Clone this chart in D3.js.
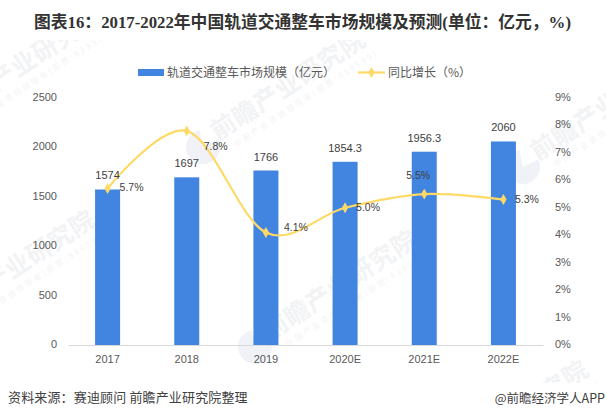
<!DOCTYPE html>
<html lang="zh">
<head>
<meta charset="UTF-8">
<title>图表16</title>
<script src="https://d3js.org/d3.v7.min.js"></script>
<style>
    html, body { margin: 0; padding: 0; background: #fff; }
    svg { display: block; }
    text { font-family: "Noto Sans CJK SC", "Noto Sans", sans-serif; }
</style>
</head>
<body>
<div id="chart"></div>
<script>
// data
var years = ["2017", "2018", "2019", "2020E", "2021E", "2022E"];
var marketSize = [1574, 1697, 1766, 1854.3, 1956.3, 2060];
var marketLabels = ["1574", "1697", "1766", "1854.3", "1956.3", "2060"];
var growth = [5.7, 7.8, 4.1, 5.0, 5.5, 5.3];
var leftTicks = [0, 500, 1000, 1500, 2000, 2500];
var rightTicks = [0, 1, 2, 3, 4, 5, 6, 7, 8, 9];
// label offset for each growth point, the labels do not all sit on the same side
var growthLabelDx = [12, 17, 18, 11, -18, 11.5];
var growthLabelDy = [-1, 15, -5, 0, -19, 0];

var width = 606, height = 420;
var plotLeft = 68, plotRight = 543, plotTop = 98, plotBottom = 345;
var barColor = "#4285e0", lineColor = "#ffd966", textColor = "#595959", labelColor = "#404040";
var numFont = '"Liberation Sans", "Noto Sans", sans-serif';

var svg = d3.select("#chart").append("svg")
    .attr("width", width)
    .attr("height", height);

// faint watermark behind the chart, only inside the band between title and footer
svg.append("clipPath").attr("id", "wm-clip")
    .append("rect").attr("x", 0).attr("y", 40).attr("width", width).attr("height", 343);
var marks = [[-41, 105], [223, 127], [543, 147], [-47, 307], [275, 327], [446, 457]];
var wm = svg.append("g").attr("clip-path", "url(#wm-clip)");
var logoArc = d3.arc().innerRadius(0).outerRadius(17).startAngle(1.1).endAngle(2 * Math.PI - 0.2);
marks.forEach(function(m) {
    wm.append("path")
        .attr("d", logoArc)
        .attr("transform", "translate(" + (m[0] - 20) + "," + (m[1] + 20) + ")")
        .attr("fill", "#f0f2f7");
    var g = wm.append("g")
        .attr("transform", "translate(" + m[0] + "," + m[1] + ") rotate(-33)");
    g.append("text")
        .attr("x", -12).attr("y", 9)
        .attr("textLength", 178)
        .attr("fill", "#f2f3f5")
        .style("font-size", "25px")
        .style("font-weight", "700")
        .text("前瞻产业研究院");
    g.append("text")
        .attr("x", 0).attr("y", 24)
        .attr("textLength", 168)
        .attr("fill", "#f3f4f6")
        .style("font-size", "8px")
        .text("中国产业咨询领导者(股票:839599)");
});

var x = d3.scaleBand().domain(years).range([plotLeft, plotRight]).paddingInner(0.684).paddingOuter(0.342);
var yLeft = d3.scaleLinear().domain([0, 2500]).range([plotBottom, plotTop]);
var yRight = d3.scaleLinear().domain([0, 9]).range([plotBottom, plotTop]);

function cx(d) { return x(d) + x.bandwidth() / 2; }

// bars
svg.selectAll("rect.bar")
    .data(years)
    .enter()
    .append("rect")
    .attr("class", "bar")
    .attr("x", function(d) { return x(d); })
    .attr("y", function(d, i) { return yLeft(marketSize[i]); })
    .attr("width", x.bandwidth())
    .attr("height", function(d, i) { return plotBottom - yLeft(marketSize[i]); })
    .attr("fill", barColor);

// axes
var axisB = svg.append("g")
    .attr("transform", "translate(0," + plotBottom + ")")
    .call(d3.axisBottom(x).tickSize(0).tickPadding(10));
axisB.select(".domain").attr("stroke", "#d9d9d9").attr("stroke-width", 1);

var axisL = svg.append("g")
    .attr("transform", "translate(" + (plotLeft - 11) + ",-1)")
    .call(d3.axisLeft(yLeft).tickValues(leftTicks).tickSize(0).tickPadding(0)
        .tickFormat(d3.format("d")));
axisL.select(".domain").remove();

var axisR = svg.append("g")
    .attr("transform", "translate(" + (plotRight + 12) + ",-1)")
    .call(d3.axisRight(yRight).tickValues(rightTicks).tickSize(0).tickPadding(0)
        .tickFormat(function(d) { return d + "%"; }));
axisR.select(".domain").remove();

svg.selectAll(".tick text")
    .style("font-family", numFont)
    .style("font-size", "11px")
    .attr("fill", textColor);

// growth line
var line = d3.line()
    .x(function(d, i) { return cx(years[i]); })
    .y(function(d) { return yRight(d); })
    .curve(d3.curveCatmullRom.alpha(0));

svg.append("path")
    .datum(growth)
    .attr("d", line)
    .attr("fill", "none")
    .attr("stroke", lineColor)
    .attr("stroke-width", 2.2);

var diamond = d3.symbol().type(d3.symbolDiamond).size(34);
svg.selectAll("path.pt")
    .data(growth)
    .enter()
    .append("path")
    .attr("class", "pt")
    .attr("d", diamond)
    .attr("transform", function(d, i) { return "translate(" + cx(years[i]) + "," + yRight(d) + ")"; })
    .attr("fill", lineColor);

// value labels
svg.selectAll("text.val")
    .data(marketLabels)
    .enter()
    .append("text")
    .attr("class", "val")
    .attr("x", function(d, i) { return cx(years[i]); })
    .attr("y", function(d, i) { return yLeft(marketSize[i]) - 10; })
    .attr("text-anchor", "middle")
    .style("font-family", numFont)
    .style("font-size", "11px")
    .attr("fill", labelColor)
    .text(function(d) { return d; });

svg.selectAll("text.pct")
    .data(growth)
    .enter()
    .append("text")
    .attr("class", "pct")
    .attr("x", function(d, i) { return cx(years[i]) + growthLabelDx[i]; })
    .attr("y", function(d, i) { return yRight(d) + growthLabelDy[i]; })
    .attr("dy", "0.35em")
    .style("font-family", numFont)
    .style("font-size", "10.5px")
    .attr("fill", labelColor)
    .text(function(d) { return d.toFixed(1) + "%"; });

// title
svg.append("text")
    .attr("x", 302.5)
    .attr("y", 28)
    .attr("text-anchor", "middle")
    .style("font-family", '"Liberation Serif", "Noto Sans CJK SC", serif')
    .style("font-size", "16.8px")
    .style("font-weight", "700")
    .attr("fill", "#333333")
    .text("图表16：2017-2022年中国轨道交通整车市场规模及预测(单位：亿元，%)");

// legend
svg.append("rect")
    .attr("x", 138).attr("y", 69).attr("width", 26).attr("height", 7).attr("fill", barColor);
svg.append("text")
    .attr("x", 167).attr("y", 76.5)
    .style("font-size", "12px").attr("fill", textColor)
    .text("轨道交通整车市场规模（亿元）");
svg.append("line")
    .attr("x1", 358).attr("x2", 385).attr("y1", 72.5).attr("y2", 72.5)
    .attr("stroke", lineColor).attr("stroke-width", 2.2);
svg.append("path")
    .attr("d", diamond)
    .attr("transform", "translate(371.5,72.5)")
    .attr("fill", lineColor);
svg.append("text")
    .attr("x", 388).attr("y", 76.5)
    .style("font-size", "12px").attr("fill", textColor)
    .text("同比增长（%）");

// footer
svg.append("text")
    .attr("x", 8).attr("y", 402)
    .style("font-size", "13px").style("letter-spacing", "0.15px").attr("fill", labelColor)
    .text("资料来源：赛迪顾问 前瞻产业研究院整理");
svg.append("text")
    .attr("x", 605).attr("y", 403)
    .attr("text-anchor", "end")
    .style("font-size", "12.5px").attr("fill", labelColor)
    .text("@前瞻经济学人APP");
</script>
</body>
</html>
